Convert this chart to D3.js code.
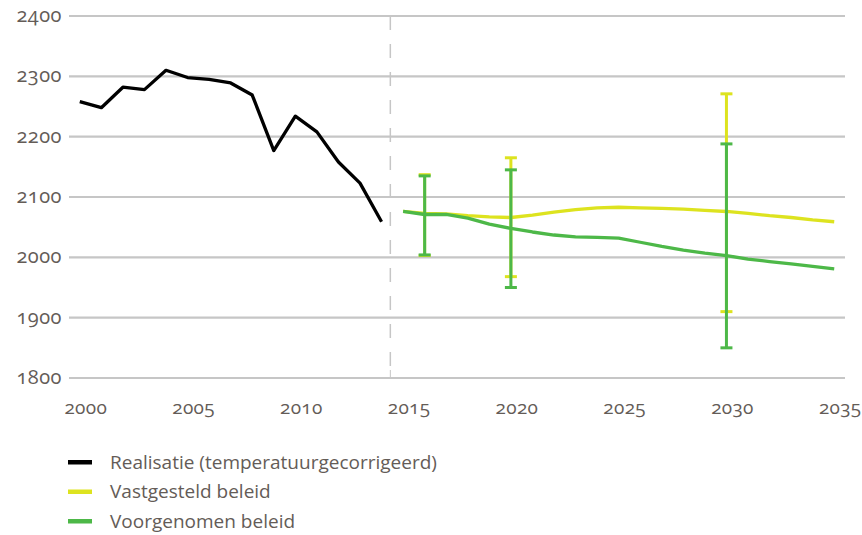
<!DOCTYPE html>
<html>
<head>
<meta charset="utf-8">
<script src="https://cdn.jsdelivr.net/npm/d3@7"></script>
<style>
  html, body { margin: 0; padding: 0; background: #ffffff; }
  svg text { font-family: "Open Sans", Lato, "DejaVu Sans", sans-serif; fill: #645c57; font-variant-numeric: oldstyle-nums; }
</style>
</head>
<body>
<svg id="chart" width="862" height="535"></svg>
<script>
// ---------- DATA ----------
const years = d3.range(2000, 2036);
const yTicks = [1800, 1900, 2000, 2100, 2200, 2300, 2400];
const xTickLabels = [2000, 2005, 2010, 2015, 2020, 2025, 2030, 2035];

const realisatieYears = [2000,2001,2002,2003,2004,2005,2006,2007,2008,2009,2010,2011,2012,2013,2014];
const realisatieValues = [2258,2248,2282,2278,2310,2298,2295,2289,2269,2177,2234,2208,2158,2123,2059];

const projYears = [2015,2016,2017,2018,2019,2020,2021,2022,2023,2024,2025,2026,2027,2028,2029,2030,2031,2032,2033,2034,2035];
const vastgesteldValues = [2076,2073,2072,2069,2067,2066,2070,2075,2079,2082,2083,2082,2081,2080,2078,2076,2073,2069,2066,2062,2059];
const voorgenomenValues = [2076,2071,2071,2065,2055,2048,2042,2037,2034,2033,2032,2025,2018,2012,2007,2003,1997,1993,1989,1985,1981];

const errYears = [2016, 2020, 2030];
const vastgesteldLow  = [2003, 1968, 1910];
const vastgesteldHigh = [2137, 2165, 2271];
const voorgenomenLow  = [2004, 1950, 1850];
const voorgenomenHigh = [2135, 2145, 2188];

const seriesNames = ["Realisatie (temperatuurgecorrigeerd)", "Vastgesteld beleid", "Voorgenomen beleid"];
const seriesColors = ["#000000", "#dde31f", "#4db848"];
const splitYear = 2015;

// ---------- LAYOUT ----------
const svg = d3.select("#chart");
const plot = { left: 69, right: 845, top: 16, bottom: 378 };

const x = d3.scaleBand().domain(years).range([plot.left, plot.right]);
const xc = yr => x(yr) + x.bandwidth() / 2;
const y = d3.scaleLinear().domain([1800, 2400]).range([plot.bottom, plot.top]);

// gridlines
svg.append("g").selectAll("line").data(yTicks).join("line")
  .attr("x1", plot.left).attr("x2", plot.right)
  .attr("y1", d => y(d)).attr("y2", d => y(d))
  .attr("stroke", "#c6c6c6").attr("stroke-width", 2.2);

// y axis labels
const yAxis = d3.axisLeft(y).tickValues(yTicks).tickSize(0).tickPadding(7).tickFormat(d3.format("d"));
svg.append("g").attr("transform", `translate(${plot.left},0)`).call(yAxis)
  .call(g => g.select(".domain").remove())
  .selectAll("text").style("font-size", "20px").style("letter-spacing", "0.5px").attr("dy", "0.28em");

// x axis labels
const xAxis = d3.axisBottom(x).tickValues(xTickLabels).tickSize(0).tickPadding(0).tickFormat(d3.format("d"));
svg.append("g").attr("transform", `translate(6,${plot.bottom + 36})`).call(xAxis)
  .call(g => g.select(".domain").remove())
  .selectAll("text").style("font-size", "19px").style("letter-spacing", "0.3px").attr("dy", 0);

// dashed separator
svg.append("line")
  .attr("x1", x(splitYear) - 2).attr("x2", x(splitYear) - 2)
  .attr("y1", plot.top).attr("y2", plot.bottom)
  .attr("stroke", "#c6c6c6").attr("stroke-width", 1.5)
  .attr("stroke-dasharray", "14,14");
// small tick at axis
svg.append("line")
  .attr("x1", x(splitYear) - 2).attr("x2", x(splitYear) - 2)
  .attr("y1", plot.bottom - 8).attr("y2", plot.bottom)
  .attr("stroke", "#c6c6c6").attr("stroke-width", 1);

const line = d3.line().x(d => xc(d[0])).y(d => y(d[1])).curve(d3.curveLinear);

// realisatie
svg.append("path")
  .datum(d3.zip(realisatieYears, realisatieValues))
  .attr("d", line).attr("fill", "none")
  .attr("stroke", seriesColors[0]).attr("stroke-width", 3.3).attr("stroke-linejoin", "round");

// error bars
function errorBars(lows, highs, color) {
  const g = svg.append("g").attr("stroke", color).attr("stroke-width", 3);
  const data = errYears.map((yr, i) => ({ yr, lo: lows[i], hi: highs[i] }));
  g.selectAll(".v").data(data).join("line")
    .attr("x1", d => xc(d.yr)).attr("x2", d => xc(d.yr))
    .attr("y1", d => y(d.lo)).attr("y2", d => y(d.hi));
  g.selectAll(".lo").data(data).join("line")
    .attr("x1", d => xc(d.yr) - 6).attr("x2", d => xc(d.yr) + 6)
    .attr("y1", d => y(d.lo)).attr("y2", d => y(d.lo));
  g.selectAll(".hi").data(data).join("line")
    .attr("x1", d => xc(d.yr) - 6).attr("x2", d => xc(d.yr) + 6)
    .attr("y1", d => y(d.hi)).attr("y2", d => y(d.hi));
}
errorBars(vastgesteldLow, vastgesteldHigh, seriesColors[1]);

svg.append("path")
  .datum(d3.zip(projYears, vastgesteldValues))
  .attr("d", line).attr("fill", "none")
  .attr("stroke", seriesColors[1]).attr("stroke-width", 3.3).attr("stroke-linejoin", "round");

errorBars(voorgenomenLow, voorgenomenHigh, seriesColors[2]);

svg.append("path")
  .datum(d3.zip(projYears, voorgenomenValues))
  .attr("d", line).attr("fill", "none")
  .attr("stroke", seriesColors[2]).attr("stroke-width", 3.3).attr("stroke-linejoin", "round");

// legend
const legend = svg.append("g").attr("transform", "translate(68,462)");
const rows = legend.selectAll("g").data(seriesNames).join("g")
  .attr("transform", (d, i) => `translate(0,${i * 29.5})`);
rows.append("rect").attr("x", 0).attr("y", -2).attr("width", 24).attr("height", 4.5)
  .attr("fill", (d, i) => seriesColors[i]);
rows.append("text").attr("x", 42).attr("y", 0).attr("dy", "0.35em")
  .style("font-size", "19px").text(d => d);
</script>
</body>
</html>
